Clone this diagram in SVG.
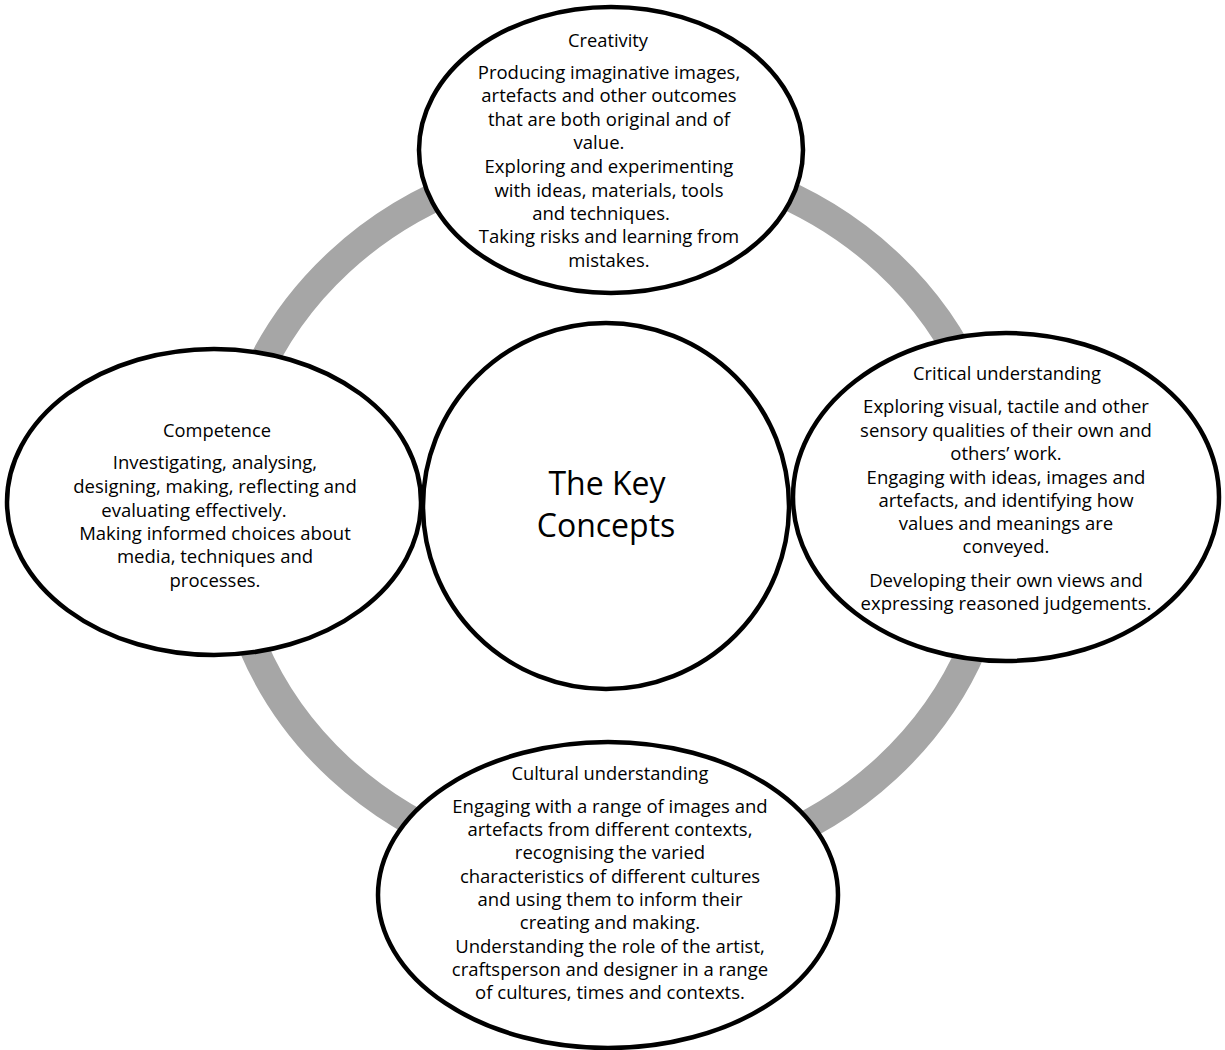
<svg xmlns="http://www.w3.org/2000/svg" width="1225" height="1050" viewBox="0 0 1225 1050">
<style>
.node{fill:#fff;stroke:#000;stroke-width:4.5}
.ring{fill:none;stroke:#a6a6a6;stroke-width:29}
text{font-family:"Open Sans","Liberation Sans",sans-serif;fill:#000;text-anchor:middle}
.t{font-size:18.3px}
.b{font-size:18.5px}
.c{font-size:32px}
</style>
<rect width="1225" height="1050" fill="#fff"/>
<g id="connectors">
<ellipse class="ring" cx="613" cy="515" rx="387" ry="358"/>
</g>
<g id="center">
<circle class="node" cx="606" cy="506" r="183"/>
<text class="c" x="607" y="495">The Key</text>
<text class="c" x="606" y="537">Concepts</text>
</g>
<g id="creativity">
<ellipse class="node" cx="611" cy="150" rx="192" ry="143"/>
<text class="t" x="608" y="47">Creativity</text>
<text class="b" x="609" y="79">Producing imaginative images,</text>
<text class="b" x="609" y="102">artefacts and other outcomes</text>
<text class="b" x="609" y="126">that are both original and of</text>
<text class="b" x="599" y="149">value.</text>
<text class="b" x="609" y="173">Exploring and experimenting</text>
<text class="b" x="609" y="197">with ideas, materials, tools</text>
<text class="b" x="601" y="220">and techniques.</text>
<text class="b" x="609" y="243">Taking risks and learning from</text>
<text class="b" x="609" y="267">mistakes.</text>
</g>
<g id="critical">
<ellipse class="node" cx="1006" cy="497" rx="213" ry="164"/>
<text class="t" x="1007" y="380">Critical understanding</text>
<text class="b" x="1006" y="413">Exploring visual, tactile and other</text>
<text class="b" x="1006" y="437">sensory qualities of their own and</text>
<text class="b" x="1006" y="460">others’ work.</text>
<text class="b" x="1006" y="484">Engaging with ideas, images and</text>
<text class="b" x="1006" y="507">artefacts, and identifying how</text>
<text class="b" x="1006" y="530">values and meanings are</text>
<text class="b" x="1006" y="553">conveyed.</text>
<text class="b" x="1006" y="587">Developing their own views and</text>
<text class="b" x="1006" y="610">expressing reasoned judgements.</text>
</g>
<g id="competence">
<ellipse class="node" cx="214" cy="502" rx="207" ry="153"/>
<text class="t" x="217" y="437">Competence</text>
<text class="b" x="215" y="469">Investigating, analysing,</text>
<text class="b" x="215" y="493">designing, making, reflecting and</text>
<text class="b" x="194" y="517">evaluating effectively.</text>
<text class="b" x="215" y="540">Making informed choices about</text>
<text class="b" x="215" y="563">media, techniques and</text>
<text class="b" x="215" y="587">processes.</text>
</g>
<g id="cultural">
<ellipse class="node" cx="608" cy="895" rx="230" ry="153"/>
<text class="t" x="610" y="780">Cultural understanding</text>
<text class="b" x="610" y="813">Engaging with a range of images and</text>
<text class="b" x="610" y="836">artefacts from different contexts,</text>
<text class="b" x="610" y="859">recognising the varied</text>
<text class="b" x="610" y="883">characteristics of different cultures</text>
<text class="b" x="610" y="906">and using them to inform their</text>
<text class="b" x="610" y="929">creating and making.</text>
<text class="b" x="610" y="953">Understanding the role of the artist,</text>
<text class="b" x="610" y="976">craftsperson and designer in a range</text>
<text class="b" x="610" y="999">of cultures, times and contexts.</text>
</g>
</svg>
